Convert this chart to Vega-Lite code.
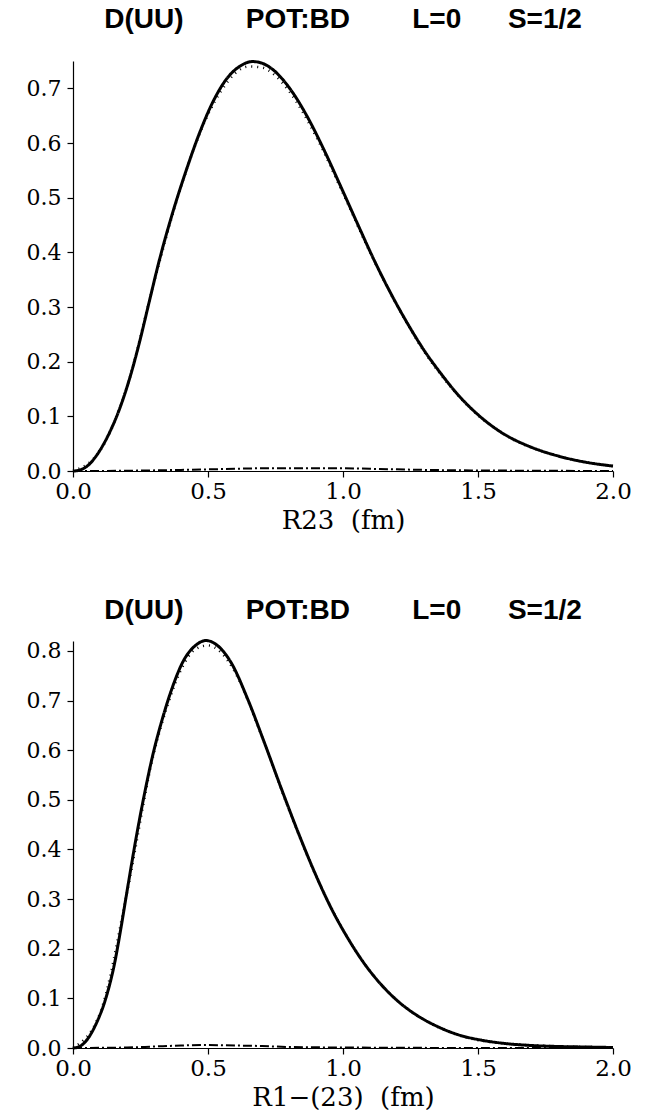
{
  "$schema": "https://vega.github.io/schema/vega-lite/v6.json",
  "background": "white",
  "padding": {"left": 26, "top": 5, "right": 5, "bottom": 5},
  "spacing": 63,
  "config": {
    "view": {"stroke": null},
    "axis": {"grid": false, "domainColor": "black", "domainWidth": 1.2, "tickColor": "black", "tickWidth": 1.2, "tickSize": 6, "labelColor": "black", "titleColor": "black", "labelFont": "DejaVu Serif", "titleFont": "DejaVu Serif", "titleFontWeight": "normal"},
    "title": {"font": "Liberation Sans", "fontWeight": "bold", "fontSize": 28, "color": "black", "anchor": "middle"}
  },
  "datasets": {
    "top": [
      {"x": 0, "y": 0, "s": "solid"}, {"x": 0.02, "y": 0.001, "s": "solid"}, {"x": 0.05, "y": 0.008, "s": "solid"}, {"x": 0.1, "y": 0.038, "s": "solid"}, {"x": 0.135, "y": 0.07, "s": "solid"}, {"x": 0.172, "y": 0.113, "s": "solid"}, {"x": 0.209, "y": 0.168, "s": "solid"}, {"x": 0.246, "y": 0.235, "s": "solid"}, {"x": 0.283, "y": 0.311, "s": "solid"}, {"x": 0.32, "y": 0.386, "s": "solid"}, {"x": 0.37, "y": 0.474, "s": "solid"}, {"x": 0.42, "y": 0.551, "s": "solid"}, {"x": 0.47, "y": 0.62, "s": "solid"}, {"x": 0.52, "y": 0.677, "s": "solid"}, {"x": 0.57, "y": 0.718, "s": "solid"}, {"x": 0.62, "y": 0.741, "s": "solid"}, {"x": 0.665, "y": 0.749, "s": "solid"}, {"x": 0.7, "y": 0.746, "s": "solid"}, {"x": 0.733, "y": 0.737, "s": "solid"}, {"x": 0.807, "y": 0.697, "s": "solid"}, {"x": 0.869, "y": 0.647, "s": "solid"}, {"x": 0.931, "y": 0.586, "s": "solid"}, {"x": 0.993, "y": 0.519, "s": "solid"}, {"x": 1.054, "y": 0.452, "s": "solid"}, {"x": 1.116, "y": 0.385, "s": "solid"}, {"x": 1.178, "y": 0.324, "s": "solid"}, {"x": 1.24, "y": 0.269, "s": "solid"}, {"x": 1.3, "y": 0.221, "s": "solid"}, {"x": 1.363, "y": 0.178, "s": "solid"}, {"x": 1.425, "y": 0.14, "s": "solid"}, {"x": 1.5, "y": 0.103, "s": "solid"}, {"x": 1.585, "y": 0.071, "s": "solid"}, {"x": 1.7, "y": 0.043, "s": "solid"}, {"x": 1.8, "y": 0.027, "s": "solid"}, {"x": 1.9, "y": 0.016, "s": "solid"}, {"x": 2.0, "y": 0.009, "s": "solid"},
      {"x": 0, "y": 0, "s": "dotted"}, {"x": 0.1, "y": 0.037, "s": "dotted"}, {"x": 0.2, "y": 0.154, "s": "dotted"}, {"x": 0.3, "y": 0.345, "s": "dotted"}, {"x": 0.4, "y": 0.52, "s": "dotted"}, {"x": 0.5, "y": 0.652, "s": "dotted"}, {"x": 0.55, "y": 0.696, "s": "dotted"}, {"x": 0.6, "y": 0.727, "s": "dotted"}, {"x": 0.65, "y": 0.74, "s": "dotted"}, {"x": 0.7, "y": 0.738, "s": "dotted"}, {"x": 0.75, "y": 0.723, "s": "dotted"}, {"x": 0.8, "y": 0.695, "s": "dotted"}, {"x": 0.9, "y": 0.612, "s": "dotted"}, {"x": 1.0, "y": 0.508, "s": "dotted"}, {"x": 1.1, "y": 0.4, "s": "dotted"}, {"x": 1.2, "y": 0.303, "s": "dotted"}, {"x": 1.3, "y": 0.219, "s": "dotted"}, {"x": 1.4, "y": 0.153, "s": "dotted"}, {"x": 1.5, "y": 0.102, "s": "dotted"}, {"x": 1.6, "y": 0.066, "s": "dotted"}, {"x": 1.8, "y": 0.027, "s": "dotted"}, {"x": 2.0, "y": 0.009, "s": "dotted"},
      {"x": 0, "y": 0, "s": "dashdot"}, {"x": 0.2, "y": 0.0005, "s": "dashdot"}, {"x": 0.4, "y": 0.002, "s": "dashdot"}, {"x": 0.5, "y": 0.003, "s": "dashdot"}, {"x": 0.6, "y": 0.004, "s": "dashdot"}, {"x": 0.7, "y": 0.005, "s": "dashdot"}, {"x": 0.8, "y": 0.005, "s": "dashdot"}, {"x": 0.9, "y": 0.005, "s": "dashdot"}, {"x": 1.0, "y": 0.005, "s": "dashdot"}, {"x": 1.1, "y": 0.004, "s": "dashdot"}, {"x": 1.2, "y": 0.003, "s": "dashdot"}, {"x": 1.3, "y": 0.002, "s": "dashdot"}, {"x": 1.5, "y": 0.001, "s": "dashdot"}, {"x": 1.7, "y": 0.0005, "s": "dashdot"}, {"x": 2.0, "y": 0.0, "s": "dashdot"}
    ],
    "bottom": [
      {"x": 0, "y": 0, "s": "solid"}, {"x": 0.02, "y": 0.002, "s": "solid"}, {"x": 0.048, "y": 0.014, "s": "solid"}, {"x": 0.085, "y": 0.048, "s": "solid"}, {"x": 0.122, "y": 0.101, "s": "solid"}, {"x": 0.153, "y": 0.168, "s": "solid"}, {"x": 0.178, "y": 0.243, "s": "solid"}, {"x": 0.202, "y": 0.322, "s": "solid"}, {"x": 0.233, "y": 0.421, "s": "solid"}, {"x": 0.264, "y": 0.51, "s": "solid"}, {"x": 0.295, "y": 0.589, "s": "solid"}, {"x": 0.332, "y": 0.665, "s": "solid"}, {"x": 0.369, "y": 0.728, "s": "solid"}, {"x": 0.406, "y": 0.777, "s": "solid"}, {"x": 0.456, "y": 0.812, "s": "solid"}, {"x": 0.493, "y": 0.821, "s": "solid"}, {"x": 0.53, "y": 0.813, "s": "solid"}, {"x": 0.585, "y": 0.777, "s": "solid"}, {"x": 0.647, "y": 0.703, "s": "solid"}, {"x": 0.709, "y": 0.615, "s": "solid"}, {"x": 0.77, "y": 0.525, "s": "solid"}, {"x": 0.832, "y": 0.437, "s": "solid"}, {"x": 0.894, "y": 0.355, "s": "solid"}, {"x": 0.956, "y": 0.282, "s": "solid"}, {"x": 1.017, "y": 0.222, "s": "solid"}, {"x": 1.079, "y": 0.17, "s": "solid"}, {"x": 1.141, "y": 0.128, "s": "solid"}, {"x": 1.202, "y": 0.095, "s": "solid"}, {"x": 1.276, "y": 0.065, "s": "solid"}, {"x": 1.351, "y": 0.043, "s": "solid"}, {"x": 1.425, "y": 0.027, "s": "solid"}, {"x": 1.511, "y": 0.016, "s": "solid"}, {"x": 1.585, "y": 0.01, "s": "solid"}, {"x": 1.7, "y": 0.005, "s": "solid"}, {"x": 1.8, "y": 0.003, "s": "solid"}, {"x": 1.9, "y": 0.002, "s": "solid"}, {"x": 2.0, "y": 0.001, "s": "solid"},
      {"x": 0, "y": 0, "s": "dotted"}, {"x": 0.1, "y": 0.07, "s": "dotted"}, {"x": 0.2, "y": 0.313, "s": "dotted"}, {"x": 0.3, "y": 0.595, "s": "dotted"}, {"x": 0.35, "y": 0.69, "s": "dotted"}, {"x": 0.4, "y": 0.762, "s": "dotted"}, {"x": 0.45, "y": 0.802, "s": "dotted"}, {"x": 0.5, "y": 0.811, "s": "dotted"}, {"x": 0.55, "y": 0.796, "s": "dotted"}, {"x": 0.6, "y": 0.757, "s": "dotted"}, {"x": 0.7, "y": 0.627, "s": "dotted"}, {"x": 0.8, "y": 0.48, "s": "dotted"}, {"x": 0.9, "y": 0.347, "s": "dotted"}, {"x": 1.0, "y": 0.238, "s": "dotted"}, {"x": 1.1, "y": 0.155, "s": "dotted"}, {"x": 1.2, "y": 0.096, "s": "dotted"}, {"x": 1.3, "y": 0.057, "s": "dotted"}, {"x": 1.4, "y": 0.031, "s": "dotted"}, {"x": 1.6, "y": 0.009, "s": "dotted"}, {"x": 2.0, "y": 0.001, "s": "dotted"},
      {"x": 0, "y": 0, "s": "dashdot"}, {"x": 0.2, "y": 0.001, "s": "dashdot"}, {"x": 0.3, "y": 0.003, "s": "dashdot"}, {"x": 0.4, "y": 0.005, "s": "dashdot"}, {"x": 0.5, "y": 0.006, "s": "dashdot"}, {"x": 0.6, "y": 0.005, "s": "dashdot"}, {"x": 0.7, "y": 0.004, "s": "dashdot"}, {"x": 0.8, "y": 0.002, "s": "dashdot"}, {"x": 1.0, "y": 0.001, "s": "dashdot"}, {"x": 1.2, "y": 0.0005, "s": "dashdot"}, {"x": 1.5, "y": 0.0, "s": "dashdot"}, {"x": 2.0, "y": 0.0, "s": "dashdot"}
    ]
  },
  "vconcat": [
    {
      "title": {"text": "D(UU)\u00a0\u00a0\u00a0\u00a0\u00a0\u00a0\u00a0\u00a0POT:BD\u00a0\u00a0\u00a0\u00a0\u00a0\u00a0\u00a0\u00a0L=0\u00a0\u00a0\u00a0\u00a0\u00a0\u00a0S=1/2", "offset": 22},
      "width": 540,
      "height": 410,
      "data": {"name": "top"},
      "mark": {"type": "line", "color": "black", "interpolate": "monotone"},
      "encoding": {
        "x": {"field": "x", "type": "quantitative", "scale": {"domain": [0, 2], "nice": false}, "axis": {"values": [0, 0.5, 1, 1.5, 2], "format": ".1f", "title": "R23\u00a0\u00a0(fm)", "labelFontSize": 23, "titleFontSize": 26, "labelPadding": 3, "titlePadding": 4, "labelFlush": false}},
        "y": {"field": "y", "type": "quantitative", "scale": {"domain": [0, 0.75], "nice": false}, "axis": {"values": [0, 0.1, 0.2, 0.3, 0.4, 0.5, 0.6, 0.7], "format": ".1f", "title": null, "labelFontSize": 22, "labelPadding": 6}},
        "detail": {"field": "s"},
        "strokeDash": {"field": "s", "type": "nominal", "scale": {"domain": ["solid", "dotted", "dashdot"], "range": [[1, 0], [1, 5], [9, 3, 2, 3]]}, "legend": null},
        "strokeWidth": {"field": "s", "type": "nominal", "scale": {"domain": ["solid", "dotted", "dashdot"], "range": [3, 2, 2.5]}, "legend": null}
      }
    },
    {
      "title": {"text": "D(UU)\u00a0\u00a0\u00a0\u00a0\u00a0\u00a0\u00a0\u00a0POT:BD\u00a0\u00a0\u00a0\u00a0\u00a0\u00a0\u00a0\u00a0L=0\u00a0\u00a0\u00a0\u00a0\u00a0\u00a0S=1/2", "offset": 10},
      "width": 540,
      "height": 407,
      "data": {"name": "bottom"},
      "mark": {"type": "line", "color": "black", "interpolate": "monotone"},
      "encoding": {
        "x": {"field": "x", "type": "quantitative", "scale": {"domain": [0, 2], "nice": false}, "axis": {"values": [0, 0.5, 1, 1.5, 2], "format": ".1f", "title": "R1\u2212(23)\u00a0\u00a0(fm)", "labelFontSize": 23, "titleFontSize": 26, "labelPadding": 3, "titlePadding": 4, "labelFlush": false}},
        "y": {"field": "y", "type": "quantitative", "scale": {"domain": [0, 0.82], "nice": false}, "axis": {"values": [0, 0.1, 0.2, 0.3, 0.4, 0.5, 0.6, 0.7, 0.8], "format": ".1f", "title": null, "labelFontSize": 22, "labelPadding": 6}},
        "detail": {"field": "s"},
        "strokeDash": {"field": "s", "type": "nominal", "scale": {"domain": ["solid", "dotted", "dashdot"], "range": [[1, 0], [1, 5], [9, 3, 2, 3]]}, "legend": null},
        "strokeWidth": {"field": "s", "type": "nominal", "scale": {"domain": ["solid", "dotted", "dashdot"], "range": [3, 2, 2.5]}, "legend": null}
      }
    }
  ]
}
